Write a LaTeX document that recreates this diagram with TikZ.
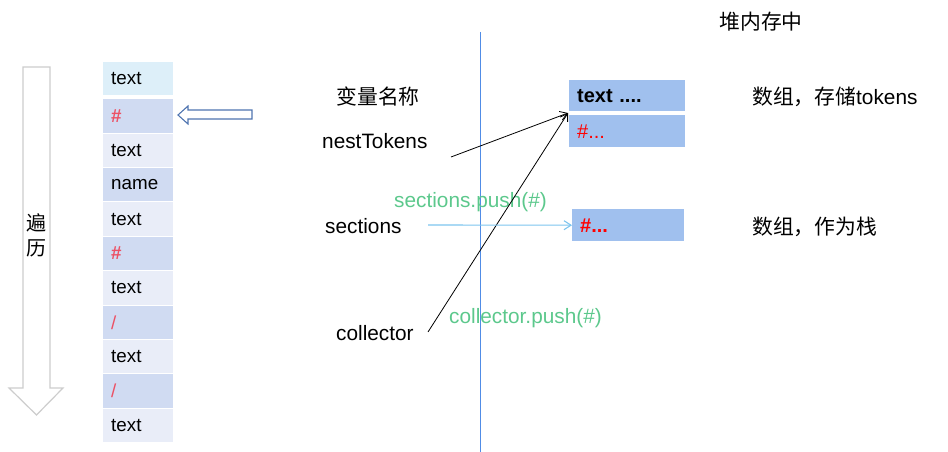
\documentclass[tikz,border=0pt]{standalone}
\usepackage{fontspec}
\setmainfont{Liberation Sans}
\newfontfamily\cjk{Noto Sans CJK SC}
\usetikzlibrary{arrows.meta}
\definecolor{rowcyan}{RGB}{221,239,249}
\definecolor{rowdark}{RGB}{208,219,242}
\definecolor{rowlight}{RGB}{233,237,248}
\definecolor{hashred}{RGB}{236,80,100}
\definecolor{boxblue}{RGB}{160,192,238}
\definecolor{vblue}{RGB}{80,140,230}
\definecolor{pushgreen}{RGB}{92,200,140}
\definecolor{secblue}{RGB}{125,196,238}
\definecolor{hollowblue}{RGB}{79,116,176}
\definecolor{travgray}{RGB}{205,205,205}
\begin{document}
\begin{tikzpicture}[x=1pt,y=-1pt,
  cell/.style={anchor=north west, minimum width=70pt, minimum height=33.4pt,
    inner xsep=8pt, inner ysep=0pt, text width=54pt, align=left,
    font=\fontsize{18.8}{20}\selectfont},
  lbl/.style={inner sep=0pt, font=\fontsize{20.8}{24}\selectfont},
  heapbox/.style={anchor=north west, fill=boxblue, minimum width=116pt,
    inner xsep=8pt, inner ysep=0pt, text width=100pt, align=left,
    font=\fontsize{20}{22}\selectfont},
  arr/.style={line width=0.8pt, -{Straight Barb[length=7pt,width=9pt]}}
]
\useasboundingbox (0,0) rectangle (948,452);

% traverse arrow
\draw[travgray, fill=white, line width=1.2pt]
  (23,67) -- (50,67) -- (50,388) -- (63,388) -- (36.5,415) -- (9,388) -- (23,388) -- cycle;
\node[lbl, align=center, font=\fontsize{20}{25}\selectfont] (trav) at (36,235) {\cjk 遍\\\cjk 历};

% token column
\node[cell, fill=rowcyan, minimum height=33pt] (r1) at (103,62) {text};
\node[cell, fill=rowdark]  (r2)  at (103,99.0)  {\textcolor{hashred}{\textbf{\#}}};
\node[cell, fill=rowlight] (r3)  at (103,133.4) {text};
\node[cell, fill=rowdark]  (r4)  at (103,167.8) {name};
\node[cell, fill=rowlight] (r5)  at (103,202.2) {text};
\node[cell, fill=rowdark]  (r6)  at (103,236.6) {\textcolor{hashred}{\textbf{\#}}};
\node[cell, fill=rowlight] (r7)  at (103,271.0) {text};
\node[cell, fill=rowdark]  (r8)  at (103,305.4) {\textcolor{hashred}{/}};
\node[cell, fill=rowlight] (r9)  at (103,339.8) {text};
\node[cell, fill=rowdark]  (r10) at (103,374.2) {\textcolor{hashred}{/}};
\node[cell, fill=rowlight] (r11) at (103,408.6) {text};

% hollow pointer arrow
\draw[hollowblue, fill=white, line width=1.1pt]
  (178,115) -- (188,106) -- (188,110) -- (252,110) -- (252,119) -- (188,119) -- (188,124) -- cycle;

% vertical divider
\draw[vblue, line width=0.9pt] (480,32) -- (480,452);

% labels
\node[lbl] (vname) at (378,97) {\cjk 变量名称};
\node[lbl, anchor=west] (nest) at (322,141) {nestTokens};
\node[lbl, anchor=west] (sec) at (325,226) {sections};
\node[lbl, anchor=west] (col) at (336,333) {collector};
\node[lbl, anchor=west, text=pushgreen] (spush) at (394,202) {sections.push(\#)};
\node[lbl, anchor=west, text=pushgreen] (cpush) at (449,318) {collector.push(\#)};

% heap
\node[lbl] (heap) at (761,22) {\cjk 堆内存中};
\node[heapbox, minimum height=31pt] (b1) at (569,80) {\textbf{text ....}};
\node[heapbox, minimum height=32pt, text=red] (b2) at (569,115) {\#...};
\node[heapbox, minimum height=32pt, minimum width=112pt, text width=96pt, text=red] (b3) at (572,209) {\textbf{\#...}};
\node[lbl, anchor=west] (d1) at (752,97) {{\cjk 数组，存储}tokens};
\node[lbl, anchor=west] (d2) at (752,227) {\cjk 数组，作为栈};

% connectors
\coordinate (hit) at (568,113);
\coordinate (ntstart) at (451,157);
\coordinate (colstart) at (428,332);
\coordinate (secstart) at (428,225);
\draw[arr] (ntstart) -- (hit);
\draw[arr] (colstart) -- (hit);
\draw[arr, secblue, line width=1.1pt] (secstart) -- (b3.west);
\end{tikzpicture}
\end{document}
